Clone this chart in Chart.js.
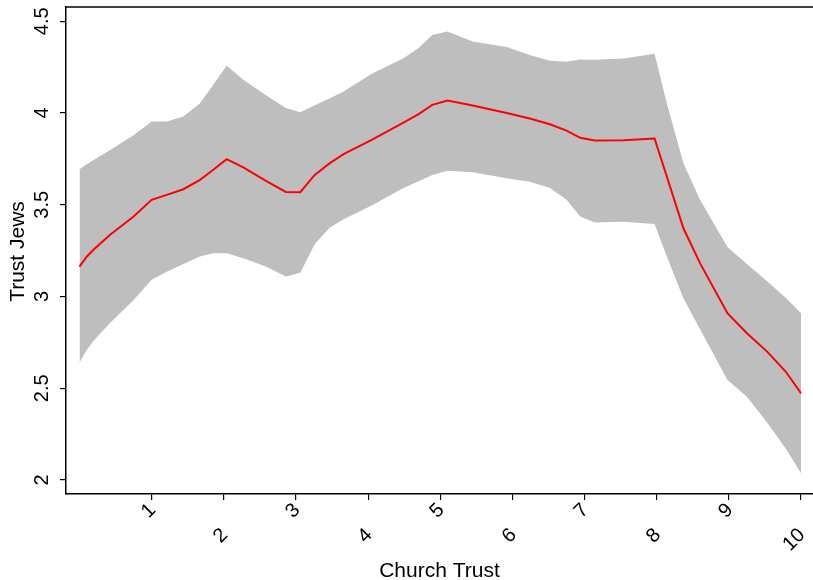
<!DOCTYPE html>
<html>
<head>
<meta charset="utf-8">
<script src="https://cdn.jsdelivr.net/npm/chart.js@4"></script>
<style>
  html, body { margin: 0; padding: 0; background: #fff; }
  #wrap { width: 813px; height: 580px; }
</style>
</head>
<body>
<div id="wrap"><canvas id="c" width="813" height="580"></canvas></div>
<script>
// ---- data ----
const churchTrust = [0, 0.10, 0.19, 0.42, 0.75, 1.0, 1.21, 1.44, 1.67, 1.85, 2.04, 2.27, 2.59, 2.86, 3.06, 3.26, 3.47, 3.66, 4.05, 4.49, 4.70, 4.89, 5.10, 5.45, 5.92, 6.24, 6.52, 6.75, 6.94, 7.14, 7.54, 7.97, 8.14, 8.37, 8.60, 8.98, 9.25, 9.53, 9.79, 10.0];
const trustFit = [3.163, 3.217, 3.254, 3.336, 3.436, 3.527, 3.554, 3.585, 3.636, 3.690, 3.749, 3.704, 3.629, 3.570, 3.569, 3.663, 3.727, 3.776, 3.854, 3.948, 3.994, 4.045, 4.068, 4.041, 4.000, 3.970, 3.939, 3.904, 3.865, 3.850, 3.852, 3.861, 3.654, 3.372, 3.182, 2.909, 2.800, 2.700, 2.590, 2.473];
const trustUpper = [3.694, 3.721, 3.743, 3.797, 3.879, 3.954, 3.954, 3.981, 4.054, 4.151, 4.259, 4.181, 4.096, 4.027, 4.005, 4.043, 4.081, 4.117, 4.214, 4.299, 4.354, 4.425, 4.444, 4.390, 4.360, 4.317, 4.285, 4.279, 4.292, 4.290, 4.297, 4.323, 4.054, 3.727, 3.527, 3.270, 3.178, 3.084, 2.992, 2.909];
const trustLower = [2.640, 2.709, 2.757, 2.854, 2.981, 3.091, 3.135, 3.178, 3.218, 3.236, 3.236, 3.209, 3.163, 3.109, 3.130, 3.285, 3.376, 3.421, 3.496, 3.591, 3.628, 3.663, 3.685, 3.678, 3.645, 3.625, 3.591, 3.527, 3.436, 3.403, 3.408, 3.396, 3.218, 2.991, 2.822, 2.545, 2.454, 2.314, 2.170, 2.037];
const xTickValues = [1, 2, 3, 4, 5, 6, 7, 8, 9, 10];
const xTickLabels = ["1", "2", "3", "4", "5", "6", "7", "8", "9", "10"];
const yTickValues = [2, 2.5, 3, 3.5, 4, 4.5];
const yTickLabels = ["2", "2.5", "3", "3.5", "4", "4.5"];
const xTitle = "Church Trust";
const yTitle = "Trust Jews";

const pts = arr => arr.map((v, i) => ({ x: churchTrust[i], y: v }));
const FONT = '"Liberation Sans", Arial, Helvetica, sans-serif';

const labelPlugin = {
  id: 'rlabels',
  afterDraw(chart) {
    const { ctx, chartArea, scales } = chart;
    const xs = scales.x, ys = scales.y;
    ctx.save();
    // top frame line
    ctx.strokeStyle = '#000';
    ctx.lineWidth = 1.5;
    ctx.beginPath();
    ctx.moveTo(chartArea.left, chartArea.top);
    ctx.lineTo(chartArea.right, chartArea.top);
    ctx.stroke();

    ctx.fillStyle = '#000';
    ctx.font = '20px ' + FONT;
    // y tick labels (rotated)
    yTickValues.forEach((v, i) => {
      const py = ys.getPixelForValue(v);
      ctx.save();
      ctx.translate(47.5, py);
      ctx.rotate(-Math.PI / 2);
      ctx.textAlign = 'center';
      ctx.textBaseline = 'alphabetic';
      ctx.fillText(yTickLabels[i], 0, 0);
      ctx.restore();
    });
    // x tick labels (rotated 45, staggered)
    xTickValues.forEach((v, i) => {
      const px = xs.getPixelForValue(v);
      const py = chartArea.bottom + (i % 2 === 0 ? 13 : 38);
      ctx.save();
      ctx.translate(px + 1, py);
      ctx.rotate(-Math.PI / 4);
      ctx.textAlign = 'right';
      ctx.textBaseline = 'middle';
      ctx.fillText(xTickLabels[i], 0, 0);
      ctx.restore();
    });
    // titles
    ctx.font = '21px ' + FONT;
    ctx.textAlign = 'center';
    ctx.textBaseline = 'alphabetic';
    ctx.fillText(xTitle, (chartArea.left + chartArea.right) / 2, 577);
    ctx.save();
    ctx.translate(24, (chartArea.top + chartArea.bottom) / 2 + 1);
    ctx.rotate(-Math.PI / 2);
    ctx.fillText(yTitle, 0, 0);
    ctx.restore();
    ctx.restore();
  }
};

new Chart(document.getElementById('c'), {
  type: 'line',
  data: {
    datasets: [
      { label: 'upper', data: pts(trustUpper), fill: '+1', backgroundColor: '#bebebe', borderWidth: 0, borderColor: 'rgba(0,0,0,0)', pointRadius: 0, tension: 0, order: 2 },
      { label: 'lower', data: pts(trustLower), fill: false, borderWidth: 0, borderColor: 'rgba(0,0,0,0)', pointRadius: 0, tension: 0, order: 1 },
      { label: 'fit', data: pts(trustFit), fill: false, borderColor: '#ff0000', borderWidth: 2, pointRadius: 0, tension: 0, order: 0 }
    ]
  },
  options: {
    responsive: false,
    animation: false,
    devicePixelRatio: 1,
    layout: { padding: { top: 7, right: 0, left: 0, bottom: 0 } },
    plugins: { legend: { display: false }, tooltip: { enabled: false }, filler: { drawTime: 'beforeDatasetsDraw' } },
    scales: {
      x: {
        type: 'linear',
        min: -0.187, max: 10.166,
        afterBuildTicks: s => { s.ticks = xTickValues.map(v => ({ value: v })); },
        afterFit: s => { s.height = 86; },
        ticks: { display: false },
        grid: { display: true, drawOnChartArea: false, drawTicks: true, tickLength: 6, color: '#000', lineWidth: 1.2 },
        border: { display: true, color: '#000', width: 1.5 }
      },
      y: {
        type: 'linear',
        min: 1.924, max: 4.578,
        afterBuildTicks: s => { s.ticks = yTickValues.map(v => ({ value: v })); },
        afterFit: s => { s.width = 66; },
        ticks: { display: false },
        grid: { display: true, drawOnChartArea: false, drawTicks: true, tickLength: 6, color: '#000', lineWidth: 1.2 },
        border: { display: true, color: '#000', width: 1.5 }
      }
    }
  },
  plugins: [labelPlugin]
});
</script>
</body>
</html>
